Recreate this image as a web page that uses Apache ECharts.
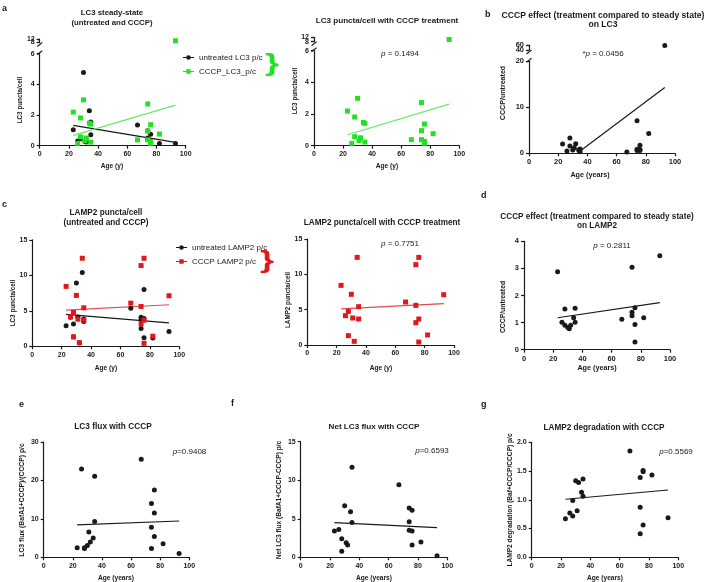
<!DOCTYPE html>
<html><head><meta charset="utf-8">
<script src="https://cdn.jsdelivr.net/npm/echarts@6/dist/echarts.min.js"></script>
<style>html,body{margin:0;padding:0;background:#fff}#c{width:709px;height:582px}</style>
</head><body><div id="c"></div>
<script>
// ---------------- DATA ----------------
const ages = [23, 26, 28, 28, 30, 31, 32, 34, 35, 35, 67, 74, 74, 74, 76, 76, 76, 82, 93];
const lc3Untreated = [1.04, 0.30, 0.45, 0.55, 4.78, 0.28, 0.24, 2.28, 1.54, 0.72, 1.35, 0.98, 0.41, 0.50, 0.74, 0.26, 0.20, 0.15, 0.15];
const lc3CCCP = [2.19, 0.15, 1.81, 0.57, 2.99, 0.32, 0.50, 1.47, 1.41, 0.23, 0.38, 2.72, 0.95, 0.38, 1.37, 0.27, 0.15, 0.76, 10];
const lc3Ratio = [2.0, 0.5, 3.3, 1.6, 0.7, 1.2, 2.1, 0.7, 0.94, 0.36, 0.3, 7.1, 0.87, 0.6, 1.74, 0.6, 0.8, 4.3, 58];
const lamp2Untreated = [2.9, 4.1, 3.15, 1.36, 8.9, 4.13, 0.47, 10.4, 3.85, 3.5, 5.35, 3.74, 4.1, 2.5, 8.0, 3.9, 1.22, 1.17, 2.07];
const lamp2CCCP = [8.44, 4.15, 4.76, 1.32, 7.17, 3.82, 0.52, 12.4, 5.42, 3.68, 6.08, 11.37, 5.61, 3.16, 12.4, 3.68, 0.42, 1.42, 7.12];
const lamp2Ratio = [2.88, 1.01, 1.5, 0.9, 0.82, 0.77, 0.9, 1.18, 1.53, 1.01, 1.12, 3.04, 1.38, 1.25, 1.55, 0.93, 0.28, 1.18, 3.47];
const lc3Flux = [2.5, 23.0, 2.3, 2.5, 3.1, 6.6, 4.0, 5.0, 21.1, 9.3, 25.5, 14.0, 7.8, 2.3, 17.5, 11.5, 5.4, 3.5, 1.0];
const netLc3Flux = [3.4, 3.6, 2.4, 0.8, 6.7, 1.9, 1.6, 5.9, 11.7, 4.5, 9.4, 6.4, 4.6, 3.5, 6.1, 3.4, 1.6, 2.0, 0.2];
const lamp2Degradation = [0.67, 0.77, 0.72, 0.99, 1.33, 0.81, 1.30, 1.13, 1.36, 1.06, 1.85, 1.39, 0.87, 0.41, 1.51, 1.49, 0.56, 1.43, 0.69];
// regression lines (end points)
const fitA1Untreated = [[23, 1.33], [93, 0.22]];
const fitA1CCCP = [[23, 0.67], [93, 2.65]];
const fitA2CCCP = [[23, 0.69], [93, 2.63]];
const fitB = [[33, 0], [93, 14.3]];
const fitC1Untreated = [[23, 4.5], [93, 3.3]];
const fitC1CCCP = [[23, 5.1], [93, 5.85]];
const fitC2CCCP = [[23, 5.1], [93, 5.85]];
const fitD = [[23, 1.18], [93, 1.74]];
const fitE = [[23, 8.45], [93, 9.45]];
const fitF = [[23, 4.5], [93, 3.85]];
const fitG = [[23, 1.01], [93, 1.17]];
// p values
const pValues = { a2: '0.1494', b: '0.0456', c2: '0.7751', d: '0.2811', e: '0.9408', f: '0.6593', g: '0.5569' };

// ---------------- STYLE / LAYOUT ----------------
const FONT = '"Liberation Sans", Arial, Helvetica, sans-serif';
const INK = '#1a1a1a';
const GREEN = '#22e022';
const GREEN_LINE = '#6ae86a';
const RED = '#e3161e';
const RED_LINE = '#e34a4f';

const grids = [
  { left: 39.7, top: 53.7, width: 146, height: 92 },     // 0 a1 main
  { left: 39.7, top: 39, width: 146, height: 3.5 },      // 1 a1 top
  { left: 314, top: 50.7, width: 145.3, height: 95 },    // 2 a2 main
  { left: 314, top: 37.3, width: 145.3, height: 4.4 },   // 3 a2 top
  { left: 529, top: 61.3, width: 146, height: 92 },      // 4 b main
  { left: 529, top: 45, width: 146, height: 5 },         // 5 b top
  { left: 32.3, top: 239.8, width: 147, height: 106.5 }, // 6 c1
  { left: 307.3, top: 239, width: 146.7, height: 106 },  // 7 c2
  { left: 524, top: 241.3, width: 146, height: 108.4 },  // 8 d
  { left: 43.7, top: 442, width: 145.6, height: 115.3 }, // 9 e
  { left: 300.7, top: 441.7, width: 146.6, height: 115.6 }, // 10 f
  { left: 531.7, top: 442.3, width: 146.6, height: 115 } // 11 g
];

function xAx(gi, show, fs) {
  return {
    type: 'value', gridIndex: gi, min: 0, max: 100, interval: 20, show: show,
    axisLine: { show: true, onZero: false, lineStyle: { color: INK, width: 1.2 } },
    axisTick: { show: true, length: 3, lineStyle: { color: INK, width: 1.2 } },
    axisLabel: { margin: 5, fontSize: fs || 7, fontWeight: 'bold', fontFamily: FONT, color: INK,
      showMinLabel: true, showMaxLabel: true, hideOverlap: false },
    splitLine: { show: false }
  };
}
function yAx(gi, min, max, interval, fs, fmt, lineShow) {
  return {
    type: 'value', gridIndex: gi, position: 'left', min: min, max: max, interval: interval,
    axisLine: { show: lineShow !== false, onZero: false, lineStyle: { color: INK, width: 1.2 } },
    axisTick: { show: true, length: 3, lineStyle: { color: INK, width: 1.2 } },
    axisLabel: { margin: 5, fontSize: fs || 7, fontWeight: 'bold', fontFamily: FONT, color: INK, formatter: fmt,
      showMinLabel: true, showMaxLabel: true, hideOverlap: false },
    splitLine: { show: false }
  };
}
function pts(ys, keep) {
  return ages.map((a, i) => [a, ys[i]]).filter(p => !keep || keep(p[1]));
}
function scatter(name, gi, ys, color, symbol, keep) {
  return { type: 'scatter', name: name, xAxisIndex: gi, yAxisIndex: gi, data: pts(ys, keep),
    symbol: symbol, symbolSize: 5, itemStyle: { color: color, opacity: 1 }, z: 3 };
}
function fitLine(name, gi, data, color) {
  return { type: 'line', name: name, xAxisIndex: gi, yAxisIndex: gi, data: data, showSymbol: false, symbol: 'none',
    lineStyle: { color: color, width: 1.2 }, z: 2 };
}

const low = v => v <= 6, high = v => v > 6;
const lowB = v => v <= 20, highB = v => v > 20;

const series = [
  scatter('untreated LC3 p/c', 0, lc3Untreated, INK, 'circle', low),
  scatter('CCCP_LC3_p/c', 0, lc3CCCP, GREEN, 'rect', low),
  scatter('CCCP_LC3_p/c', 1, lc3CCCP, GREEN, 'rect', high),
  fitLine('fitA1u', 0, fitA1Untreated, INK),
  fitLine('fitA1c', 0, fitA1CCCP, GREEN_LINE),
  scatter('a2', 2, lc3CCCP, GREEN, 'rect', low),
  scatter('a2', 3, lc3CCCP, GREEN, 'rect', high),
  fitLine('fitA2', 2, fitA2CCCP, GREEN_LINE),
  scatter('b', 4, lc3Ratio, INK, 'circle', lowB),
  scatter('b', 5, lc3Ratio, INK, 'circle', highB),
  fitLine('fitB', 4, fitB, INK),
  scatter('untreated LAMP2 p/c', 6, lamp2Untreated, INK, 'circle'),
  scatter('CCCP LAMP2 p/c', 6, lamp2CCCP, RED, 'rect'),
  fitLine('fitC1u', 6, fitC1Untreated, INK),
  fitLine('fitC1c', 6, fitC1CCCP, RED_LINE),
  scatter('c2', 7, lamp2CCCP, RED, 'rect'),
  fitLine('fitC2', 7, fitC2CCCP, RED_LINE),
  scatter('d', 8, lamp2Ratio, INK, 'circle'),
  fitLine('fitD', 8, fitD, INK),
  scatter('e', 9, lc3Flux, INK, 'circle'),
  fitLine('fitE', 9, fitE, INK),
  scatter('f', 10, netLc3Flux, INK, 'circle'),
  fitLine('fitF', 10, fitF, INK),
  scatter('g', 11, lamp2Degradation, INK, 'circle'),
  fitLine('fitG', 11, fitG, INK)
];

const xAxes = [
  xAx(0, true), xAx(1, false), xAx(2, true), xAx(3, false), xAx(4, true, 7.5), xAx(5, false),
  xAx(6, true), xAx(7, true), xAx(8, true, 7.5), xAx(9, true), xAx(10, true), xAx(11, true)
];
// top segments of broken axes: one axis carries the upper label, a twin carries the lower label
const onlyMax = mx => v => (v === mx ? String(v) : '');
const onlyMin = mn => v => (v === mn ? String(v) : '');
const yAxes = [
  yAx(0, 0, 6, 2), yAx(1, 8, 12, 4, 7, onlyMax(12)), yAx(2, 0, 6, 2), yAx(3, 8, 12, 4, 7, onlyMax(12)),
  yAx(4, 0, 20, 10, 7.5), yAx(5, 40, 60, 20, 7.5, onlyMax(60)),
  yAx(6, 0, 15, 5), yAx(7, 0, 15, 5), yAx(8, 0, 4, 1, 7.5),
  yAx(9, 0, 30, 10), yAx(10, 0, 15, 5), yAx(11, 0, 2, 0.5, 7, v => v.toFixed(1)),
  yAx(1, 8, 12, 4, 7, onlyMin(8), false), yAx(3, 8, 12, 4, 7, onlyMin(8), false), yAx(5, 40, 60, 20, 7.5, onlyMin(40), false)
];

// ---------------- TEXT ----------------
const graphics = [];
function txt(s, x, y, size, opts) {
  opts = opts || {};
  graphics.push({
    type: 'text', x: x, y: y, rotation: opts.rot ? Math.PI / 2 : 0, scaleX: opts.sx || 1,
    style: { text: s, fill: opts.color || INK, align: opts.align || 'center', verticalAlign: 'middle',
      font: (opts.normal ? '' : 'bold ') + size + 'px ' + FONT }
  });
}
function pTxt(pre, val, x, y) {
  const base = { fontSize: 8, fontFamily: FONT, fill: INK, color: INK };
  graphics.push({
    type: 'text', x: x, y: y,
    style: { text: (pre ? '{n|' + pre + '}' : '') + '{i|p}{n|' + val + '}', align: 'center', verticalAlign: 'middle',
      font: '8px ' + FONT, fill: INK,
      rich: { i: Object.assign({ fontStyle: 'italic' }, base), n: base } }
  });
}
// panel letters
txt('a', 2, 9, 9, { align: 'left' });
txt('b', 485, 15, 9, { align: 'left' });
txt('c', 2, 205, 9, { align: 'left' });
txt('d', 481, 196, 9, { align: 'left' });
txt('e', 19, 405, 9, { align: 'left' });
txt('f', 231, 404, 9, { align: 'left' });
txt('g', 481, 405, 9, { align: 'left' });
// titles
txt('LC3 steady-state', 112, 13, 7.8);
txt('(untreated and CCCP)', 112, 22.5, 7.8);
txt('LC3 puncta/cell with CCCP treatment', 387, 21, 8.1);
txt('CCCP effect (treatment compared to steady state)', 603, 15.5, 8.6);
txt('on LC3', 603, 25, 8.6);
txt('LAMP2 puncta/cell', 106, 213, 8.2);
txt('(untreated and CCCP)', 106, 223, 8.2);
txt('LAMP2 puncta/cell with CCCP treatment', 382, 223, 8.2);
txt('CCCP effect (treatment compared to steady state)', 597, 216.5, 8.2);
txt('on LAMP2', 597, 226, 8.2);
txt('LC3 flux with CCCP', 113, 427, 8.3);
txt('Net LC3 flux with CCCP', 374, 427, 8.1);
txt('LAMP2 degradation with CCCP', 604, 428, 8.2);
// x axis names
txt('Age (y)', 112, 166, 6.6);
txt('Age (y)', 387, 166, 6.6);
txt('Age (years)', 590, 175, 7.2);
txt('Age (y)', 106, 368, 6.6);
txt('Age (y)', 381, 368, 6.6);
txt('Age (years)', 597, 368, 7.2);
txt('Age (years)', 116, 578, 6.6);
txt('Age (years)', 374, 578, 6.6);
txt('Age (years)', 605, 578, 6.6);
// y axis names
txt('LC3 puncta/cell', 20, 100, 6.3, { rot: true });
txt('LC3 puncta/cell', 295, 91, 6.3, { rot: true });
txt('CCCP/untreated', 503, 93, 7.1, { rot: true });
txt('LC3 puncta/cell', 13, 303, 6.3, { rot: true });
txt('LAMP2 puncta/cell', 288, 300, 6.3, { rot: true });
txt('CCCP/untreated', 503, 307, 6.8, { rot: true });
txt('LC3 flux (BafA1+CCCP)/(CCCP) p/c', 22, 500, 6.8, { rot: true });
txt('Net LC3 flux (BafA1+CCCP-CCCP) p/c', 279, 500, 6.6, { rot: true });
txt('LAMP2 degradation (Baf+CCCP/CCCP) p/c', 510, 500, 6.6, { rot: true });
// p values
pTxt('', ' = ' + pValues.a2, 400, 54);
pTxt('*', ' = ' + pValues.b, 603, 54);
pTxt('', ' = ' + pValues.c2, 400, 244);
pTxt('', ' = ' + pValues.d, 612, 246);
pTxt('', '=' + pValues.e, 189.5, 452);
pTxt('', '=' + pValues.f, 432, 451);
pTxt('', '=' + pValues.g, 676, 452);
// braces
txt('}', 272, 64, 24, { color: GREEN, sx: 1.5 });
txt('}', 267, 261, 24, { color: RED, sx: 1.5 });
// axis break marks
function breakMarks(main, top) {
  const x = main.left;
  [main.top - 1, top.top + top.height + 2].forEach(y => {
    graphics.push({ type: 'line', shape: { x1: x - 2.5, y1: y + 2, x2: x + 2.5, y2: y - 2 }, style: { stroke: INK, lineWidth: 1.1 } });
  });
}
breakMarks(grids[0], grids[1]);
breakMarks(grids[2], grids[3]);
breakMarks(grids[4], grids[5]);

const ICON_CIRCLE = 'path://M0,20H110V30H0Z M55,2A23,23 0 1 1 54.9,2Z';
const ICON_SQUARE = 'path://M0,20H110V30H0Z M33,3H77V47H33Z';
const legendBase = { orient: 'vertical', itemWidth: 11, itemHeight: 5, itemGap: 6, selectedMode: false, padding: 0,
  textStyle: { fontSize: 8, fontFamily: FONT, color: INK } };

const option = {
  animation: false,
  backgroundColor: '#fff',
  grid: grids.map(g => Object.assign({ containLabel: false, outerBoundsMode: 'none' }, g)),
  xAxis: xAxes,
  yAxis: yAxes,
  legend: [
    Object.assign({ left: 183, top: 53.5, data: [{ name: 'untreated LC3 p/c', icon: ICON_CIRCLE }, { name: 'CCCP_LC3_p/c', icon: ICON_SQUARE }] }, legendBase),
    Object.assign({ left: 176, top: 243.5, data: [{ name: 'untreated LAMP2 p/c', icon: ICON_CIRCLE }, { name: 'CCCP LAMP2 p/c', icon: ICON_SQUARE }] }, legendBase)
  ],
  series: series,
  graphic: { elements: graphics }
};
const chart = echarts.init(document.getElementById('c'), null, { renderer: 'canvas' });
chart.setOption(option);
</script></body></html>
